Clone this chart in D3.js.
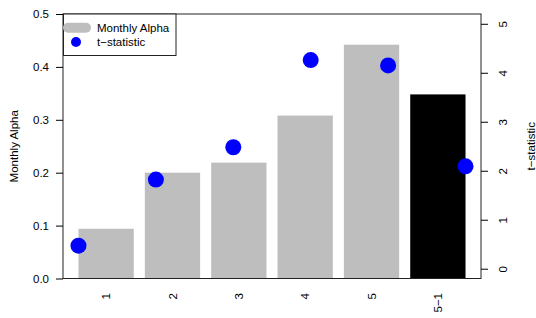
<!DOCTYPE html>
<html>
<head>
<meta charset="utf-8">
<script src="https://cdn.jsdelivr.net/npm/d3@7"></script>
<style>
  body { margin: 0; background: #fff; }
  text { font-family: 'Liberation Sans', Arial, sans-serif; fill: #000; }
</style>
</head>
<body>
<svg id="chart"></svg>
<script>
// data
const categories = ['1', '2', '3', '4', '5', '5\u22121']
const alpha = [0.094, 0.200, 0.219, 0.308, 0.442, 0.348]
const tstat = [0.47, 1.82, 2.48, 4.26, 4.15, 2.09]
const barColors = ['#bebebe', '#bebebe', '#bebebe', '#bebebe', '#bebebe', '#000000']
const leftTicks = [0, 0.1, 0.2, 0.3, 0.4, 0.5]
const rightTicks = [0, 1, 2, 3, 4, 5]
const legendLabels = ['Monthly Alpha', 't\u2212statistic']

const width = 536
const height = 318
const plot = { left: 63, right: 481, top: 14, bottom: 278.5 }

const svg = d3.select('#chart')
  .attr('width', width)
  .attr('height', height)

/// scales ///
const yLeft = d3.scaleLinear().domain([0, 0.5]).range([plot.bottom, plot.top])
const yRight = d3.scaleLinear().domain([-0.2, 5.2]).range([plot.bottom, plot.top])
const xBand = d3.scaleBand()
  .domain(categories)
  .range([plot.left, plot.right])
  .paddingInner(1 / 6)
  .paddingOuter(0.28 / 1.2)
// points sit on a second plot with x = 1..6
const xPt = d3.scaleLinear().domain([0.8, 6.2]).range([plot.left, plot.right])

/// bars ///
svg.append('g')
  .selectAll('rect')
  .data(alpha)
  .enter()
  .append('rect')
  .attr('x', (d, i) => xBand(categories[i]))
  .attr('width', xBand.bandwidth())
  .attr('y', d => yLeft(d))
  .attr('height', d => yLeft(0) - yLeft(d))
  .attr('fill', (d, i) => barColors[i])

/// points ///
svg.append('g')
  .selectAll('circle')
  .data(tstat)
  .enter()
  .append('circle')
  .attr('cx', (d, i) => xPt(i + 1))
  .attr('cy', d => yRight(d))
  .attr('r', 8)
  .attr('fill', '#0000ff')

/// box ///
svg.append('rect')
  .attr('x', plot.left)
  .attr('y', plot.top)
  .attr('width', plot.right - plot.left)
  .attr('height', plot.bottom - plot.top)
  .attr('fill', 'none')
  .attr('stroke', '#222')
  .attr('stroke-width', 1)

/// left axis ///
const leftAxis = svg.append('g')
  .attr('transform', `translate(${plot.left},0)`)
  .call(d3.axisLeft(yLeft).tickValues(leftTicks).tickFormat(d3.format('.1f'))
    .tickSize(7).tickSizeOuter(0).tickPadding(7))
leftAxis.select('.domain').remove()
leftAxis.selectAll('text')
  .attr('font-size', 11.5)
  .attr('font-family', "'Liberation Sans', Arial, sans-serif")
  .attr('fill', '#000')

/// right axis ///
const rightAxis = svg.append('g')
  .attr('transform', `translate(${plot.right},0)`)
  .call(d3.axisRight(yRight).tickValues(rightTicks).tickFormat(d3.format('d'))
    .tickSize(7).tickSizeOuter(0))
rightAxis.select('.domain').remove()
rightAxis.selectAll('text')
  .attr('font-size', 11.5)
  .attr('font-family', "'Liberation Sans', Arial, sans-serif")
  .attr('fill', '#000')
  .attr('x', null)
  .attr('text-anchor', 'middle')
  .attr('transform', 'translate(21.5,0) rotate(-90)')
  .attr('dy', '0.35em')

/// bottom labels ///
const bottomAxis = svg.append('g')
  .attr('transform', `translate(0,${plot.bottom})`)
  .call(d3.axisBottom(xBand).tickSize(0))
bottomAxis.select('.domain').remove()
bottomAxis.selectAll('text')
  .attr('font-size', 11.5)
  .attr('font-family', "'Liberation Sans', Arial, sans-serif")
  .attr('fill', '#000')
  .attr('y', null)
  .attr('dy', '0.35em')
  .attr('text-anchor', 'end')
  .attr('transform', 'translate(0,14.5) rotate(-90)')

/// axis titles ///
svg.append('text')
  .attr('transform', `translate(14,${(plot.top + plot.bottom) / 2}) rotate(-90)`)
  .attr('text-anchor', 'middle')
  .attr('dy', '0.35em')
  .attr('font-size', 11.5)
  .text('Monthly Alpha')

svg.append('text')
  .attr('transform', `translate(531,${(plot.top + plot.bottom) / 2}) rotate(-90)`)
  .attr('text-anchor', 'middle')
  .attr('dy', '0.35em')
  .attr('font-size', 11.5)
  .text('t\u2212statistic')

/// legend ///
const legend = svg.append('g')
legend.append('rect')
  .attr('x', plot.left + 0.5)
  .attr('y', plot.top)
  .attr('width', 112.5)
  .attr('height', 41.5)
  .attr('fill', '#fff')
  .attr('stroke', '#222')
legend.append('line')
  .attr('x1', 68).attr('x2', 86)
  .attr('y1', 27.7).attr('y2', 27.7)
  .attr('stroke', '#bebebe')
  .attr('stroke-width', 10)
  .attr('stroke-linecap', 'round')
legend.append('circle')
  .attr('cx', 76)
  .attr('cy', 42)
  .attr('r', 5)
  .attr('fill', '#0000ff')
legend.selectAll('text.leg')
  .data(legendLabels)
  .enter()
  .append('text')
  .attr('class', 'leg')
  .attr('x', 97)
  .attr('y', (d, i) => 28 + i * 14)
  .attr('dy', '0.35em')
  .attr('font-size', 11.5)
  .text(d => d)
</script>
</body>
</html>
